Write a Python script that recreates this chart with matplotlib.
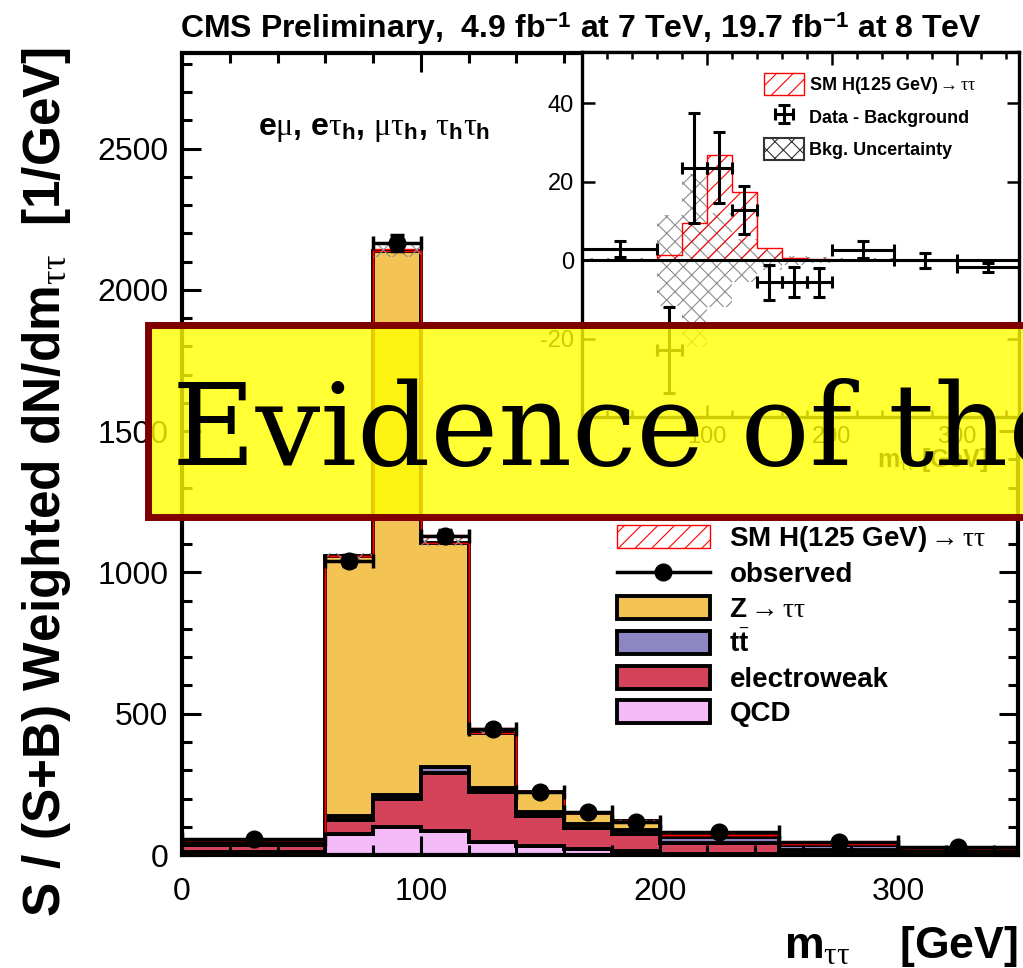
import matplotlib
matplotlib.use("Agg")
import matplotlib.pyplot as plt
from matplotlib.patches import Patch, Rectangle
from matplotlib.lines import Line2D
from matplotlib.ticker import MultipleLocator
import numpy as np

# m_tautau binning [GeV]
edges = [0, 60, 80, 100, 120, 140, 160, 180, 200, 250, 300, 350]

# main panel: S/(S+B) weighted dN/dm, stacked from the bottom
qcd = [12, 75, 100, 86, 46, 32, 20, 15, 3, 2, 1]
ewk = [25, 50, 100, 204, 177, 106, 75, 60, 40, 16, 7]
ttbar = [5, 12, 12, 20, 15, 14, 15, 12, 22, 18, 12]
ztt = [10, 920, 1925, 795, 195, 70, 40, 35, 5, 4, 4]
observed = [58, 1042, 2166, 1130, 447, 224, 153, 118, 80, 46, 28]
observed_err = [6, 20, 30, 22, 14, 10, 8, 7, 5, 4, 3]

# inset: data - background
signal = [0.0, 1.4, 9.5, 26.7, 17.3, 3.1, 0.6, 0.2, 0.0, 0.0, 0.0]
diff = [2.9, -22.8, 23.5, 23.6, 12.8, -5.6, -5.6, -5.6, 2.7, 0.0, -1.8]
diff_err = [2.0, 11.0, 14.0, 9.0, 6.0, 4.5, 3.8, 3.7, 2.1, 1.9, 1.2]
bkg_unc = [0.5, 11.6, 22.0, 12.0, 5.5, 2.5, 1.2, 0.8, 0.5, 0.3, 0.2]
inset_yticks = [-20, 0, 20, 40]

plt.rcParams['font.family'] = ['Liberation Sans', 'DejaVu Sans']
plt.rcParams['mathtext.fontset'] = 'custom'
plt.rcParams['mathtext.rm'] = 'Liberation Serif'
plt.rcParams['mathtext.it'] = 'Liberation Serif'
plt.rcParams['mathtext.bf'] = 'Liberation Sans:bold'
plt.rcParams['axes.unicode_minus'] = False
plt.rcParams['hatch.linewidth'] = 0.8

colors = {'qcd': '#F5BAF8', 'ewk': '#D44359', 'tt': '#8C87C3', 'ztt': '#F3C454'}

edges = np.array(edges, dtype=float)
centers = 0.5 * (edges[:-1] + edges[1:])
halfw = 0.5 * np.diff(edges)

fig = plt.figure(figsize=(10.23, 9.68), dpi=100)

# ---------------- main panel ----------------
ax = fig.add_axes([0.178, 0.1167, 0.817, 0.829])
base = np.zeros(len(qcd))
for vals, col in [(qcd, colors['qcd']), (ewk, colors['ewk']),
                  (ttbar, colors['tt']), (ztt, colors['ztt'])]:
    top = base + np.array(vals)
    ax.stairs(top, edges, baseline=base, fill=True, facecolor=col,
              edgecolor='black', linewidth=2.8)
    base = top

ax.stairs(base + np.array(signal), edges, baseline=base, fill=True,
          facecolor='none', edgecolor='red', hatch='//', linewidth=1)
unc = np.array(bkg_unc)
ax.stairs(base + unc, edges, baseline=base - unc, fill=True,
          facecolor='none', edgecolor='#8c8c8c', hatch='xx', linewidth=0)

ax.errorbar(centers, observed, xerr=halfw, yerr=observed_err, fmt='o',
            color='black', ms=12, elinewidth=2.5, capsize=5, capthick=2.5)

ax.set_xlim(0, 350)
ax.set_ylim(0, 2840)
ax.xaxis.set_major_locator(MultipleLocator(100))
ax.xaxis.set_minor_locator(MultipleLocator(20))
ax.yaxis.set_major_locator(MultipleLocator(500))
ax.yaxis.set_minor_locator(MultipleLocator(100))
ax.tick_params(which='both', direction='in', top=True, right=True, width=2.2)
ax.tick_params(which='major', length=14, labelsize=23)
ax.tick_params(which='minor', length=7)
ax.tick_params(axis='x', pad=16)
ax.tick_params(axis='y', pad=10)
for s in ax.spines.values():
    s.set_linewidth(3)

# ---------------- inset ----------------
ins = fig.add_axes([0.569, 0.569, 0.427, 0.377])
ins.set_facecolor('white')
ins.stairs(unc, edges, baseline=-unc, fill=True, facecolor='none',
           edgecolor='#8c8c8c', hatch='xx', linewidth=0)
ins.stairs(signal, edges, fill=True, facecolor='none', edgecolor='red',
           hatch='//', linewidth=1)
ins.axhline(0, color='black', lw=2.2)
eb = ins.errorbar(centers, diff, xerr=halfw, yerr=diff_err, fmt='none',
                  ecolor='black', elinewidth=2.2, capsize=4, capthick=2.2)
ins.set_xlim(0, 350)
ins.set_ylim(-40, 53)
ins.xaxis.set_major_locator(MultipleLocator(100))
ins.xaxis.set_minor_locator(MultipleLocator(20))
ins.set_yticks(inset_yticks)
ins.tick_params(which='both', direction='in', top=True, right=True, width=1.8)
ins.tick_params(which='major', length=9, labelsize=17, pad=6)
ins.tick_params(which='minor', length=5)
for s in ins.spines.values():
    s.set_linewidth(2.4)
fig.text(988 / 1023, 1 - 467 / 968, r'm$_{\tau\tau}$ [GeV]', fontsize=18,
         fontweight='bold', ha='right', va='baseline')

ins_handles = [Patch(facecolor='none', edgecolor='red', hatch='//', lw=1),
               eb,
               Patch(facecolor='none', edgecolor='#333333', hatch='xx', lw=1.5)]
ins_labels = [r'SM H(125 GeV)$\rightarrow\tau\tau$', 'Data - Background',
              'Bkg. Uncertainty']
fig.legend(ins_handles, ins_labels, loc='upper left',
           bbox_to_anchor=(755 / 1023, 1 - 64 / 968), frameon=False,
           prop={'size': 13, 'weight': 'bold'}, borderpad=0,
           handlelength=2.2, handleheight=1.5, handletextpad=0.3,
           labelspacing=0.55)

# ---------------- main legend ----------------
main_handles = [Patch(facecolor='white', edgecolor='red', hatch='//', lw=1),
                Line2D([], [], color='black', marker='o', ms=12, lw=2.5),
                Patch(facecolor=colors['ztt'], edgecolor='black', lw=2.8),
                Patch(facecolor=colors['tt'], edgecolor='black', lw=2.8),
                Patch(facecolor=colors['ewk'], edgecolor='black', lw=2.8),
                Patch(facecolor=colors['qcd'], edgecolor='black', lw=2.8)]
main_labels = [r'SM H(125 GeV)$\rightarrow\tau\tau$', 'observed',
               r'Z$\rightarrow\tau\tau$', r'$\mathbf{t}\bar{\mathbf{t}}$',
               'electroweak', 'QCD']
fig.legend(main_handles, main_labels, loc='upper left',
           bbox_to_anchor=(603 / 1023, 1 - 510 / 968), frameon=False,
           prop={'size': 20, 'weight': 'bold'}, borderpad=0,
           handlelength=3.35, handleheight=0.9, handletextpad=0.7,
           labelspacing=0.27)

# ---------------- labels ----------------
fig.text(180 / 1023, 1 - 38 / 968,
         r'CMS Preliminary,  4.9 fb$^{\mathbf{-1}}$ at 7 TeV, 19.7 fb$^{\mathbf{-1}}$ at 8 TeV',
         fontsize=23, fontweight='bold', ha='left', va='baseline')
fig.text(258 / 1023, 1 - 135 / 968,
         r'$\mathbf{e}\mu$, $\mathbf{e}\tau_{\mathbf{h}}$, $\mu\tau_{\mathbf{h}}$, $\tau_{\mathbf{h}}\tau_{\mathbf{h}}$',
         fontsize=23, fontweight='bold', ha='left', va='baseline')
fig.text(0.045, 1 - 482 / 968,
         r'S / (S+B) Weighted dN/dm$_{\tau\tau}$  [1/GeV]',
         fontsize=37, fontweight='bold', rotation=90, ha='center', va='center')
fig.text(1018 / 1023, 1 - 958 / 968, r'm$_{\tau\tau}$    [GeV]',
         fontsize=32, fontweight='bold', ha='right', va='baseline')

# ---------------- banner ----------------
banner = Rectangle((148 / 1023, 1 - 517 / 968), 1.0, (517 - 325) / 968,
                   transform=fig.transFigure, facecolor=(1, 1, 0, 0.8),
                   edgecolor='#800000', linewidth=5, zorder=10)
fig.add_artist(banner)
fig.text(172 / 1023, 1 - 465 / 968, 'Evidence of the', family='DejaVu Serif',
         fontsize=82.5, ha='left', va='baseline', zorder=11)

fig.savefig('out.png', dpi=100)
